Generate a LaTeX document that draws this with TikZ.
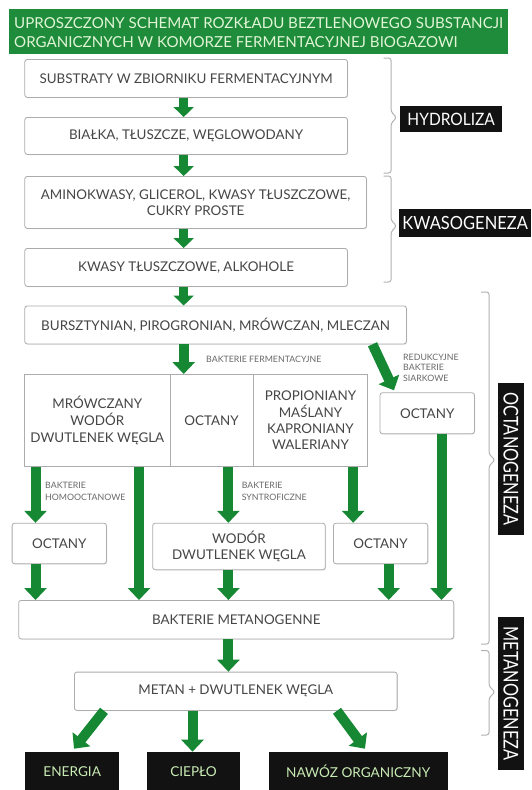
\documentclass[tikz,border=0pt]{standalone}
\usepackage{fontspec}
\setmainfont{Lato}
\usetikzlibrary{arrows.meta,shadows}
\definecolor{agreen}{RGB}{22,136,52}
\definecolor{tgreen}{RGB}{30,140,58}
\definecolor{titletext}{RGB}{225,245,215}
\definecolor{boxtext}{RGB}{70,70,70}
\definecolor{lbltext}{RGB}{105,105,105}
\definecolor{outtext}{RGB}{200,235,180}
\definecolor{blk}{RGB}{18,18,18}
\tikzset{
  box/.style={draw=gray!65, fill=white, rounded corners=2.5pt, line width=0.8pt,
    text=boxtext, align=center, inner sep=0pt, anchor=north west,
    font=\fontsize{13.4}{16}\selectfont,
    drop shadow={shadow xshift=0.8pt, shadow yshift=-0.8pt, opacity=0.2}},
  cell/.style={draw=gray!65, fill=white, line width=0.8pt,
    text=boxtext, align=center, inner sep=0pt, anchor=north west,
    font=\fontsize{13.4}{16.8}\selectfont},
  bigtxt/.style={font=\fontsize{13.4}{16.5}\selectfont},
  garrow/.style={draw=agreen, line width=10pt, -{Triangle[width=22pt,length=12pt]}},
  gsmall/.style={draw=agreen, line width=8.5pt, -{Triangle[width=20pt,length=10pt]}},
  small/.style={text=lbltext, align=left, inner sep=0pt, font=\fontsize{8.8}{12.3}\selectfont},
  sidelbl/.style={fill=blk, text=white, inner sep=0pt, font=\fontsize{15.5}{18}\selectfont},
  outbox/.style={fill=blk, text=outtext, inner sep=0pt, anchor=north west,
    font=\fontsize{13.6}{15}\selectfont},
  brc/.style={draw=gray!60, line width=1pt, rounded corners=2.5pt},
}
\begin{document}
\begin{tikzpicture}[x=1pt,y=-1pt]
\useasboundingbox[fill=white] (0,0) rectangle (531,790);
% title
\node[fill=tgreen, anchor=north west, minimum width=499pt, minimum height=44.3pt,
  inner sep=0pt] (title) at (9,9) {};
\node[text=titletext, anchor=west, align=left, inner sep=0pt, font=\fontsize{15.1}{19}\selectfont] (titletxt) at (14,32.2)
  {UPROSZCZONY SCHEMAT ROZKŁADU BEZTLENOWEGO SUBSTANCJI\\ORGANICZNYCH W KOMORZE FERMENTACYJNEJ BIOGAZOWI};
% column coordinates
\coordinate (xA) at (183.7,0);
\coordinate (xB) at (35.5,0);
\coordinate (xC) at (139,0);
\coordinate (xD) at (228.4,0);
\coordinate (xE) at (353.2,0);
\coordinate (xF) at (388.7,0);
\coordinate (xG) at (441.5,0);
\coordinate (xH) at (192.5,0);
% main chain
\node[box, minimum width=322.6pt, minimum height=38pt] (b1) at (24.4,59) {SUBSTRATY W ZBIORNIKU FERMENTACYJNYM};
\node[box, minimum width=322.6pt, minimum height=37pt] (b2) at (24.4,117) {BIAŁKA, TŁUSZCZE, WĘGLOWODANY};
\node[box, minimum width=341.6pt, minimum height=52pt] (b3) at (24.4,176) {AMINOKWASY, GLICEROL, KWASY TŁUSZCZOWE,\\CUKRY PROSTE};
\node[box, minimum width=322.6pt, minimum height=38pt] (b4) at (24.4,248) {KWASY TŁUSZCZOWE, ALKOHOLE};
\node[box, minimum width=381.6pt, minimum height=38pt] (b5) at (24.4,305.5) {BURSZTYNIAN, PIROGRONIAN, MRÓWCZAN, MLECZAN};
% split box
\node[cell, minimum width=145.1pt, minimum height=92pt] (c1) at (24.4,374) {MRÓWCZANY\\WODÓR\\DWUTLENEK WĘGLA};
\node[cell, minimum width=83.2pt, minimum height=92pt] (c2) at (169.5,374) {OCTANY};
\node[cell, minimum width=114.7pt, minimum height=92pt, font=\fontsize{13.4}{16.4}\selectfont] (c3) at (252.7,374) {PROPIONIANY\\MAŚLANY\\KAPRONIANY\\WALERIANY};
\node[box, bigtxt, minimum width=94.4pt, minimum height=41pt] (oR) at (379.6,392.3) {OCTANY};
% second row
\node[box, bigtxt, minimum width=94.3pt, minimum height=40.5pt] (o1) at (11.7,522.8) {OCTANY};
\node[box, bigtxt, minimum width=172.5pt, minimum height=46.5pt] (w) at (152.3,522.8) {WODÓR\\DWUTLENEK WĘGLA};
\node[box, bigtxt, minimum width=94.3pt, minimum height=40.5pt] (o2) at (333,522.8) {OCTANY};
\node[box, minimum width=435pt, minimum height=38.5pt] (met) at (18.3,600) {BAKTERIE METANOGENNE};
\node[box, minimum width=322.7pt, minimum height=38.3pt] (mc) at (74,671.7) {METAN + DWUTLENEK WĘGLA};
% outputs
\node[outbox, minimum width=94pt, minimum height=39pt] (e1) at (25,751.7) {ENERGIA};
\node[outbox, minimum width=93.3pt, minimum height=39pt] (e2) at (146.7,751.7) {CIEPŁO};
\node[outbox, minimum width=179.4pt, minimum height=39pt] (e3) at (268.3,751.7) {NAWÓZ ORGANICZNY};
% small labels
\node[small, anchor=west] (lf) at (206,359.5) {BAKTERIE FERMENTACYJNE};
\node[small, anchor=north west, font=\fontsize{8.8}{10.6}\selectfont] (lr) at (403,353.5) {REDUKCYJNE\\BAKTERIE\\SIARKOWE};
\node[small, anchor=north west] (lh) at (45,481.5) {BAKTERIE\\HOMOOCTANOWE};
\node[small, anchor=north west] (ls) at (241.6,481.5) {BAKTERIE\\SYNTROFICZNE};
% side labels
\node[sidelbl, anchor=north west, minimum width=102pt, minimum height=25.7pt] (hyd) at (400,106) {\scalebox{1}[1.1]{HYDROLIZA}};
\node[sidelbl, anchor=north west, minimum width=132pt, minimum height=28pt, font=\fontsize{16.5}{18}\selectfont] (kwa) at (399,209) {\scalebox{1}[1.1]{KWASOGENEZA}};
\node[sidelbl, rotate=-90, minimum width=152pt, minimum height=26pt, font=\fontsize{16.3}{18}\selectfont] (octg) at (511,459) {\scalebox{1}[1.25]{OCTANOGENEZA}};
\node[sidelbl, rotate=-90, minimum width=153pt, minimum height=26pt, font=\fontsize{16.3}{18}\selectfont] (metg) at (511,693.5) {\scalebox{1}[1.25]{METANOGENEZA}};
% braces
\draw[brc] (383.5,58) -- (391,58) -- (391,111.5) -- (396.5,117.5) -- (391,123.5) -- (391,173) -- (383.5,173);
\draw[brc] (383.5,176) -- (391,176) -- (391,220) -- (396.5,226) -- (391,232) -- (391,282) -- (383.5,282);
\draw[brc] (481,292) -- (489,292) -- (489,454) -- (495,460) -- (489,466) -- (489,644) -- (481,644);
\draw[brc] (481,650.5) -- (489,650.5) -- (489,686) -- (495,692) -- (489,698) -- (489,735) -- (481,735);
% arrows
\draw[gsmall] (b1.south -| xA) -- (b2.north -| xA);
\draw[gsmall] (b2.south -| xA) -- (b3.north -| xA);
\draw[gsmall] (b3.south -| xA) -- (b4.north -| xA);
\draw[gsmall] (b4.south -| xA) -- (b5.north -| xA);
\draw[garrow] (b5.south -| xA) -- (c2.north -| xA);
\coordinate (dgs) at (372.5,0); \coordinate (dge) at (394,0);
\draw[garrow] (b5.south -| dgs) -- ([yshift=2pt]oR.north -| dge);
\draw[garrow] (c1.south -| xB) -- (o1.north -| xB);
\draw[garrow] (o1.south -| xB) -- (met.north -| xB);
\draw[garrow] (c1.south -| xC) -- (met.north -| xC);
\draw[garrow] (c2.south -| xD) -- (w.north -| xD);
\draw[garrow] (w.south -| xD) -- (met.north -| xD);
\draw[garrow] (c3.south -| xE) -- (o2.north -| xE);
\draw[garrow] (o2.south -| xF) -- (met.north -| xF);
\draw[garrow] (oR.south -| xG) -- (met.north -| xG);
\draw[garrow] (met.south -| xD) -- (mc.north -| xD);
\coordinate (m1s) at (104,0); \coordinate (m1e) at (74,0);
\coordinate (m3s) at (337,0); \coordinate (m3e) at (365,0);
\draw[garrow] (mc.south -| m1s) -- ([yshift=3pt]e1.north -| m1e);
\draw[garrow] (mc.south -| xH) -- (e2.north -| xH);
\draw[garrow] (mc.south -| m3s) -- ([yshift=3pt]e3.north -| m3e);
\end{tikzpicture}
\end{document}
